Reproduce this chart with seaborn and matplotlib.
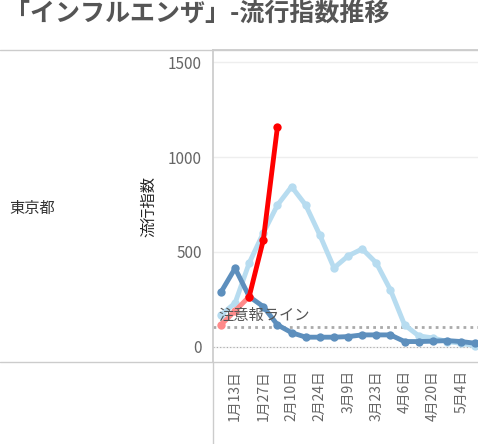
import matplotlib
matplotlib.use("Agg")
import matplotlib.pyplot as plt
import seaborn as sns
import pandas as pd

sns.set_theme(style="white")
plt.rcParams['font.family'] = ['Noto Sans CJK JP', 'DejaVu Sans']

# weekly index values, Tokyo
season_prev2 = [288, 414, 265, 212, 116, 75, 51, 51, 51, 54, 63, 63, 63, 28, 28, 30, 33, 28, 19]
season_prev1 = [168, 231, 442, 600, 747, 844, 747, 589, 416, 479, 516, 442, 300, 116, 58, 47, 28, 19, 5]
season_now = [116, 189, 265, 563, 1159]
alert_level = 107
tick_labels = ["1月13日", "1月27日", "2月10日", "2月24日", "3月9日",
               "3月23日", "4月6日", "4月20日", "5月4日"]

df = pd.DataFrame({"week": range(len(season_prev1)), "prev2": season_prev2, "prev1": season_prev1})
now = pd.DataFrame({"week": range(len(season_now)), "v": season_now})

fig = plt.figure(figsize=(4.78, 4.44), dpi=100)
ax = fig.add_axes([0.446, 0.185, 0.554, 0.702])

ax.axhline(alert_level, color="#aaaaaa", ls=(0, (1, 1.5)), lw=2, zorder=1)
ax.axhline(0, color="#aaaaaa", ls=(0, (1, 2)), lw=0.8, zorder=1)
sns.lineplot(data=df, x="week", y="prev1", ax=ax, color="#b7dcf0", lw=3.5,
             marker="o", markersize=6, markeredgewidth=0, zorder=2)
sns.lineplot(data=df, x="week", y="prev2", ax=ax, color="#5d8fbd", lw=3.5,
             marker="o", markersize=6, markeredgewidth=0, zorder=3)
sns.lineplot(data=now.iloc[:3], x="week", y="v", ax=ax, color="#ff8a8a", lw=3.5,
             marker="o", markersize=6, markeredgewidth=0, zorder=4)
sns.lineplot(data=now.iloc[2:], x="week", y="v", ax=ax, color="#ff0000", lw=3.5,
             marker="o", markersize=6, markeredgewidth=0, zorder=5)
ax.text(-0.2, alert_level + 15, "注意報ライン", fontsize=11, color="#555555", va="bottom", zorder=10)

ax.set_xlim(-0.55, 18.2)
ax.set_ylim(-79, 1563)
ax.set_yticks([0, 500, 1000, 1500])
ax.tick_params(axis="y", labelsize=11, colors="#666666", length=0, pad=8)
ax.set_xticks(range(1, 18, 2))
ax.set_xticklabels(tick_labels, rotation=90, fontsize=10, color="#666666")
ax.tick_params(axis="x", length=0, pad=6)
ax.grid(axis="y", color="#eeeeee", lw=1)
ax.set_axisbelow(True)
ax.set_xlabel("")
ax.set_ylabel("流行指数", fontsize=11, color="#222222", labelpad=8)
for s in ["right", "bottom"]:
    ax.spines[s].set_visible(False)
ax.spines["left"].set_color("#cccccc")
ax.spines["top"].set_color("#cccccc")

fig.text(0.01, 0.995, "「インフルエンザ」-流行指数推移", fontsize=18, fontweight="bold",
         color="#555555", va="top")
fig.text(0.02, 0.53, "東京都", fontsize=11, color="#333333", va="center")
fig.add_artist(plt.Line2D([0, 1], [0.887, 0.887], color="#cccccc", lw=1))
fig.add_artist(plt.Line2D([0, 1], [0.185, 0.185], color="#cccccc", lw=1))
fig.add_artist(plt.Line2D([0.446, 0.446], [0.0, 0.185], color="#cccccc", lw=1))

fig.savefig("out.png", dpi=100)
